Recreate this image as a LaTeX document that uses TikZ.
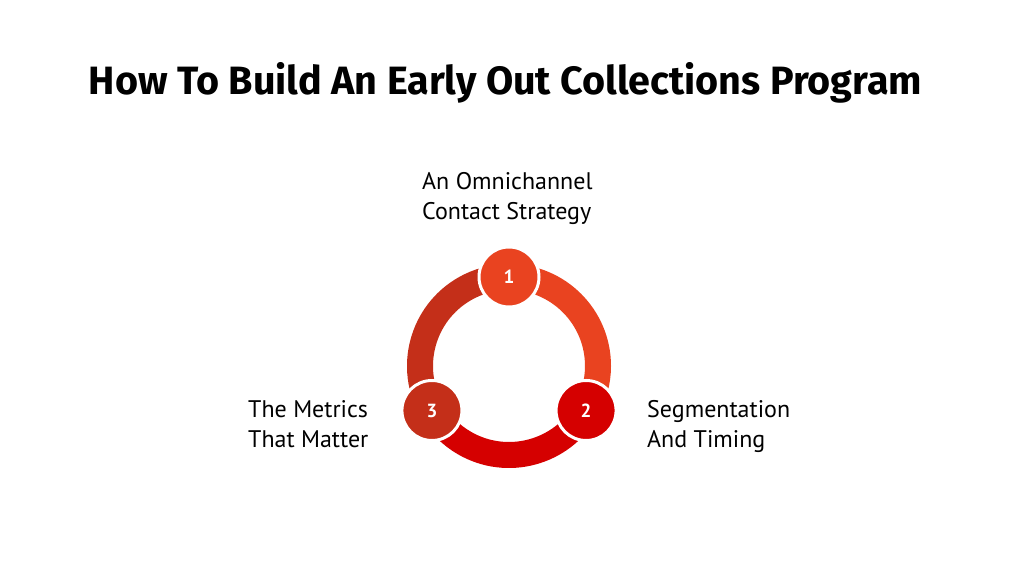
\documentclass[tikz,border=0pt]{standalone}
\usepackage{fontspec}
\setmainfont{PT Sans}
\newfontfamily\titlefont{Fira Sans}
\usepackage{xcolor}
\usetikzlibrary{positioning}

\definecolor{stepone}{HTML}{E94320}
\definecolor{steptwo}{HTML}{D50000}
\definecolor{stepthree}{HTML}{C42F19}

\begin{document}
\begin{tikzpicture}[
   x=1pt, y=1pt,
   ring/.style={line width=26pt},
   badge/.style={circle, draw=white, line width=3pt, minimum size=60pt,
                 inner sep=0pt, text=white, font=\fontsize{19}{19}\selectfont\bfseries},
   label/.style={align=left, anchor=base west, inner sep=0pt,
                 font=\fontsize{24}{30}\selectfont}]
  \useasboundingbox (0,0) rectangle (1012,569);
  \node[inner sep=0pt, anchor=base] (title) at (505.5,474)
     {\titlefont\bfseries\fontsize{39.5}{48}\selectfont How To Build An Early Out Collections Program};
  % ring centre and the three arcs
  \coordinate (c) at (509,203);
  \draw[ring, stepone]   ([shift={(90:89)}]c)  arc (90:-30:89);
  \draw[ring, steptwo]   ([shift={(-30:89)}]c) arc (-30:-150:89);
  \draw[ring, stepthree] ([shift={(210:89)}]c) arc (210:90:89);
  % numbered badges
  \node[badge, fill=stepone]   (one)   at ([shift={(90:89)}]c)  {1};
  \node[badge, fill=steptwo]   (two)   at ([shift={(-30:89)}]c) {2};
  \node[badge, fill=stepthree] (three) at ([shift={(210:89)}]c) {3};
  % labels
  \node[label] (omni)    at (422,349) {An Omnichannel\\Contact Strategy};
  \node[label] (segment) at (647,121) {Segmentation\\And Timing};
  \node[label] (metrics) at (248,121) {The Metrics\\That Matter};
\end{tikzpicture}
\end{document}
